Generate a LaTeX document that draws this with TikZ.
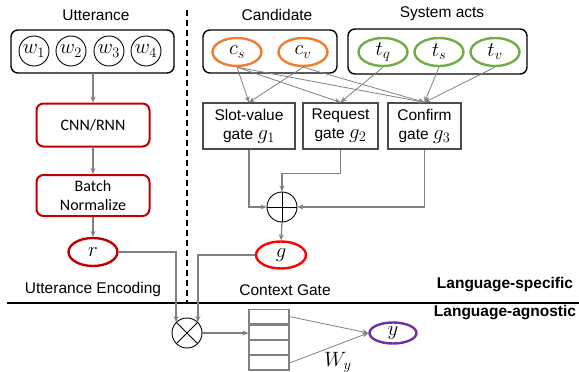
\documentclass[tikz,border=0pt]{standalone}
\usepackage{fontspec}
\setmainfont{Liberation Sans}
\newfontfamily\calfont{Carlito}
\usetikzlibrary{shapes.geometric,arrows.meta,calc}
\definecolor{accorange}{HTML}{ED7D31}
\definecolor{accgreen}{HTML}{70AD47}
\definecolor{boxred}{HTML}{C00000}
\definecolor{brightred}{HTML}{FF0000}
\definecolor{accpurple}{HTML}{7030A0}
\definecolor{linegray}{HTML}{808080}
% math symbols are set a little larger than the surrounding text
\newcommand\bigmath[1]{{\fontsize{20}{20}\selectfont$#1$}}
\tikzset{
  txt/.style={font=\fontsize{15.5}{18}\selectfont, inner sep=0pt},
  grp/.style={draw=black, line width=1.4pt, rounded corners=7pt},
  word/.style={circle, draw=black, line width=0.9pt, minimum size=30pt, inner sep=0pt},
  oval/.style={ellipse, line width=2.4pt, minimum width=49pt, minimum height=28pt, inner sep=0pt},
  redbox/.style={draw=boxred, line width=2pt, rounded corners=7pt, minimum width=113pt, align=center, font=\calfont\fontsize{16}{19}\selectfont, inner sep=0pt},
  gatebox/.style={draw=black!70, line width=1.3pt, align=center, font=\fontsize{15.5}{19}\selectfont, inner sep=0pt, minimum height=46pt},
  conn/.style={draw=linegray, line width=1.3pt, -{Stealth[length=6pt,width=5pt]}},
  thinconn/.style={draw=linegray, line width=0.8pt, -{Stealth[length=6pt,width=5pt]}},
  opnode/.style={circle, draw=black, line width=0.9pt, minimum size=30pt, inner sep=0pt},
  cell/.style={draw=linegray, line width=1.2pt, minimum width=40pt, minimum height=14.25pt, inner sep=0pt},
  heading/.style={font=\bfseries\fontsize{15.5}{18}\selectfont, inner sep=0pt},
}
\begin{document}
\begin{tikzpicture}[x=1pt,y=-1pt]
\useasboundingbox (0,0) rectangle (579,372);

% ---- utterance encoder ----
\node[txt] (uttlabel) at (96,15) {Utterance};
\draw[grp] (11,30) rectangle (174,73);
\coordinate (uttbot) at (93,73);
\node[word] (w1) at (34,51) {\bigmath{w_1}};
\node[word] (w2) at (71,51) {\bigmath{w_2}};
\node[word] (w3) at (109,51) {\bigmath{w_3}};
\node[word] (w4) at (146,51) {\bigmath{w_4}};
\node[redbox, minimum height=43pt] (cnn) at (93,125) {CNN/RNN};
\node[redbox, minimum height=41pt] (bn) at (93,195.5) {Batch\\Normalize};
\node[oval, draw=boxred] (r) at (93,252) {\bigmath{r}};
\node[txt] (uttenc) at (93,289) {Utterance Encoding};
\draw[conn] (uttbot) -- (cnn.north);
\draw[conn] (cnn.south) -- (bn.north);
\draw[conn] (bn.south) -- (r.north);

% ---- candidate and system acts ----
\node[txt] (candlabel) at (277,15) {Candidate};
\draw[grp] (203,30) rectangle (337,73);
\node[oval, draw=accorange] (cs) at (237,52) {\bigmath{c_s}};
\node[oval, draw=accorange] (cv) at (303,52) {\bigmath{c_v}};
\node[txt] (actlabel) at (442,14) {System acts};
\draw[grp] (348,29) rectangle (527,74);
\node[oval, draw=accgreen] (tq) at (383,52) {\bigmath{t_q}};
\node[oval, draw=accgreen] (ts) at (439,52) {\bigmath{t_s}};
\node[oval, draw=accgreen] (tv) at (495,52) {\bigmath{t_v}};

% ---- gates ----
\node[gatebox, minimum width=92pt] (g1) at (249,126) {Slot-value\\gate \bigmath{g_1}};
\node[gatebox, minimum width=75pt] (g2) at (340.5,126) {Request\\gate \bigmath{g_2}};
\node[gatebox, minimum width=73pt] (g3) at (424.5,126) {Confirm\\gate \bigmath{g_3}};

\draw[thinconn] (cs.south) -- (g1.north);
\draw[thinconn] (cv.south) -- (g1.north);
\draw[thinconn] (cs.south) -- (g2.north);
\draw[thinconn] (tq.south) -- (g2.north);
\draw[thinconn] (cs.south) -- (g3.north);
\draw[thinconn] (cv.south) -- (g3.north);
\draw[thinconn] (ts.south) -- (g3.north);
\draw[thinconn] (tv.south) -- (g3.north);

% ---- sum of gates ----
\node[opnode, path picture={
  \draw[black, line width=0.9pt] (path picture bounding box.north) -- (path picture bounding box.south)
    (path picture bounding box.west) -- (path picture bounding box.east);}] (add) at (282,207) {};
\draw[conn] (g1.south) |- (add.west);
\draw[conn] (g3.south) |- (add.east);
\draw[conn] (g2.south) -- ++(0,24) -| (add.north);
\node[oval, draw=brightred, minimum width=50pt, minimum height=27pt] (g) at (281,255) {\bigmath{g}};
\draw[conn] (add.south) -- (g.north);
\node[txt] (ctxgate) at (285,290) {Context Gate};

% ---- divider lines ----
\coordinate (divtop) at (187,10);
\coordinate (divbot) at (187,303);
\draw[black, line width=1.4pt, dash pattern=on 6pt off 4pt] (divtop) -- (divbot);
\coordinate (hl) at (7,303);
\coordinate (hr) at (579,303);
\draw[black, line width=1.4pt] (hl) -- (hr);
\node[heading] (specific) at (505,285) {Language-specific};
\node[heading] (agnostic) at (505,313) {Language-agnostic};

% ---- language-agnostic output ----
\node[opnode, path picture={
  \draw[black, line width=0.9pt] (path picture bounding box.north west) -- (path picture bounding box.south east)
    (path picture bounding box.south west) -- (path picture bounding box.north east);}] (mul) at (187,333) {};
\draw[conn] (r.east) -| (mul.north west);
\draw[conn] (g.west) -| (mul.north east);

\node[cell] (s1) at (269,316.6) {};
\node[cell, anchor=north] (s2) at (s1.south) {};
\node[cell, anchor=north] (s3) at (s2.south) {};
\node[cell, anchor=north] (s4) at (s3.south) {};
\draw[conn] (mul.east) -- (mul.east -| s1.west);

\node[oval, draw=accpurple, minimum width=47pt, minimum height=21pt] (y) at (393,333) {\bigmath{y}};
\draw[thinconn] (s1.east) -- (y.west);
\draw[thinconn] (s4.east) -- (y.west);
\node[inner sep=0pt] (wy) at (338,362) {\bigmath{W_y}};
\end{tikzpicture}
\end{document}
